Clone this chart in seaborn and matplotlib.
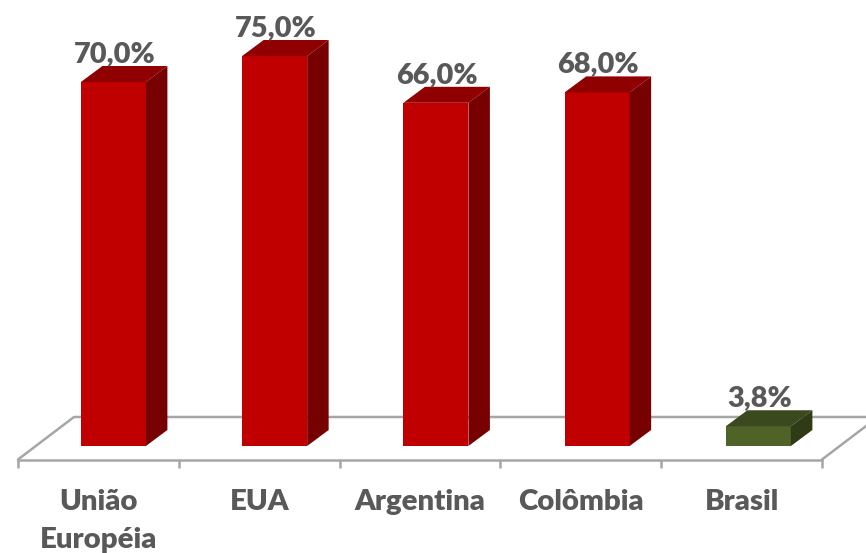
import matplotlib
matplotlib.use("Agg")
import matplotlib.pyplot as plt
from matplotlib.patches import Polygon
from matplotlib.transforms import ScaledTranslation, IdentityTransform
import pandas as pd
import seaborn as sns

categories = ["União\nEuropéia", "EUA", "Argentina", "Colômbia", "Brasil"]
values = [70.0, 75.0, 66.0, 68.0, 3.8]
value_labels = ["70,0%", "75,0%", "66,0%", "68,0%", "3,8%"]
front_colors = ["#C00000", "#C00000", "#C00000", "#C00000", "#4F6228"]
top_colors = ["#900000", "#900000", "#900000", "#900000", "#3B4A1E"]
side_colors = ["#770000", "#770000", "#770000", "#770000", "#2F3B14"]

W, H = 866, 553
DPI = 100
TEXT = "#595959"
GRID = "#A6A6A6"
PX_PER_UNIT = 5.2
FRONT_Y, BASE_Y, BACK_Y = 459.5, 446, 417
LEFT, RIGHT = 18, 822
SHIFT_X = 15
SHIFT_STEP = 0.45
DX, DY = 21.5, 16

sns.set_theme(style="white")
plt.rcParams["font.family"] = ["Lato", "DejaVu Sans"]
plt.rcParams["font.weight"] = "bold"

fig = plt.figure(figsize=(W / DPI, H / DPI), dpi=DPI)
ax = fig.add_axes([LEFT / W, 1 - FRONT_Y / H, (RIGHT - LEFT) / W, FRONT_Y / H])
ax.patch.set_alpha(0)

df = pd.DataFrame({"cat": categories, "val": values})
sns.barplot(data=df, x="cat", y="val", hue="cat", palette=front_colors, legend=False,
            width=65 / ((RIGHT - LEFT) / 5), saturation=1, ax=ax, zorder=3)

ax.set_xlim(-0.5, 4.5)
ax.set_ylim(-(FRONT_Y - BASE_Y) / PX_PER_UNIT, BASE_Y / PX_PER_UNIT)
ax.set_xlabel("")
ax.set_ylabel("")
ax.set_yticks([])
ax.set_xticks(range(5))
ax.set_xticks([i - 0.5 for i in range(6)], minor=True)
ax.tick_params(axis="x", which="major", length=0, pad=21.5, labelsize=21.2, labelcolor=TEXT)
ax.tick_params(axis="x", which="minor", length=5.5, width=1.8, color=GRID, bottom=True)
for lab in ax.get_xticklabels():
    lab.set_fontweight("heavy")
    lab.set_linespacing(1.55)
for name, sp in ax.spines.items():
    sp.set_visible(name == "bottom")
ax.spines["bottom"].set_color(GRID)
ax.spines["bottom"].set_linewidth(1.8)

fig.canvas.draw()
pixel = IdentityTransform()


def to_px(x, y):
    return ax.transData.transform((x, y))


y_front = to_px(0, ax.get_ylim()[0])[1]
y_back = y_front + (FRONT_Y - BACK_Y)
x_left = to_px(-0.5, 0)[0]
x_right = to_px(4.5, 0)[0]
depth = (FRONT_Y - BACK_Y) * (DX / DY) * 0.98
for xs, ys in [([x_left, x_left + depth, W + 5], [y_front, y_back, y_back]),
               ([x_right, x_right + depth], [y_front, y_back])]:
    ax.plot(xs, ys, color=GRID, lw=1.8, transform=pixel, clip_on=False, zorder=1,
            solid_capstyle="round")

for i, patch in enumerate(ax.patches):
    shift = SHIFT_X + SHIFT_STEP * i
    offset = ScaledTranslation(shift / DPI, 0, fig.dpi_scale_trans)
    x0, x1 = patch.get_x(), patch.get_x() + patch.get_width()
    v = patch.get_height()
    patch.set_transform(ax.transData + offset)
    patch.set_clip_on(False)
    patch.set_linewidth(0)
    (px0, py0), (px1, py1) = to_px(x0, 0), to_px(x1, v)
    px0 += shift
    px1 += shift
    top = [(px0, py1), (px1, py1), (px1 + DX, py1 + DY), (px0 + DX, py1 + DY)]
    side = [(px1, py0), (px1 + DX, py0 + DY), (px1 + DX, py1 + DY), (px1, py1)]
    ax.add_patch(Polygon(top, closed=True, facecolor=top_colors[i], edgecolor="none",
                         transform=pixel, clip_on=False, zorder=3))
    ax.add_patch(Polygon(side, closed=True, facecolor=side_colors[i], edgecolor="none",
                         transform=pixel, clip_on=False, zorder=3))
    ax.text((px0 + px1) / 2 + 1, py1 + 15, value_labels[i], transform=pixel, ha="center",
            va="bottom", fontsize=20.8, fontweight="heavy", color=TEXT, zorder=4, clip_on=False)

fig.savefig("out.png", dpi=DPI, facecolor="white")
